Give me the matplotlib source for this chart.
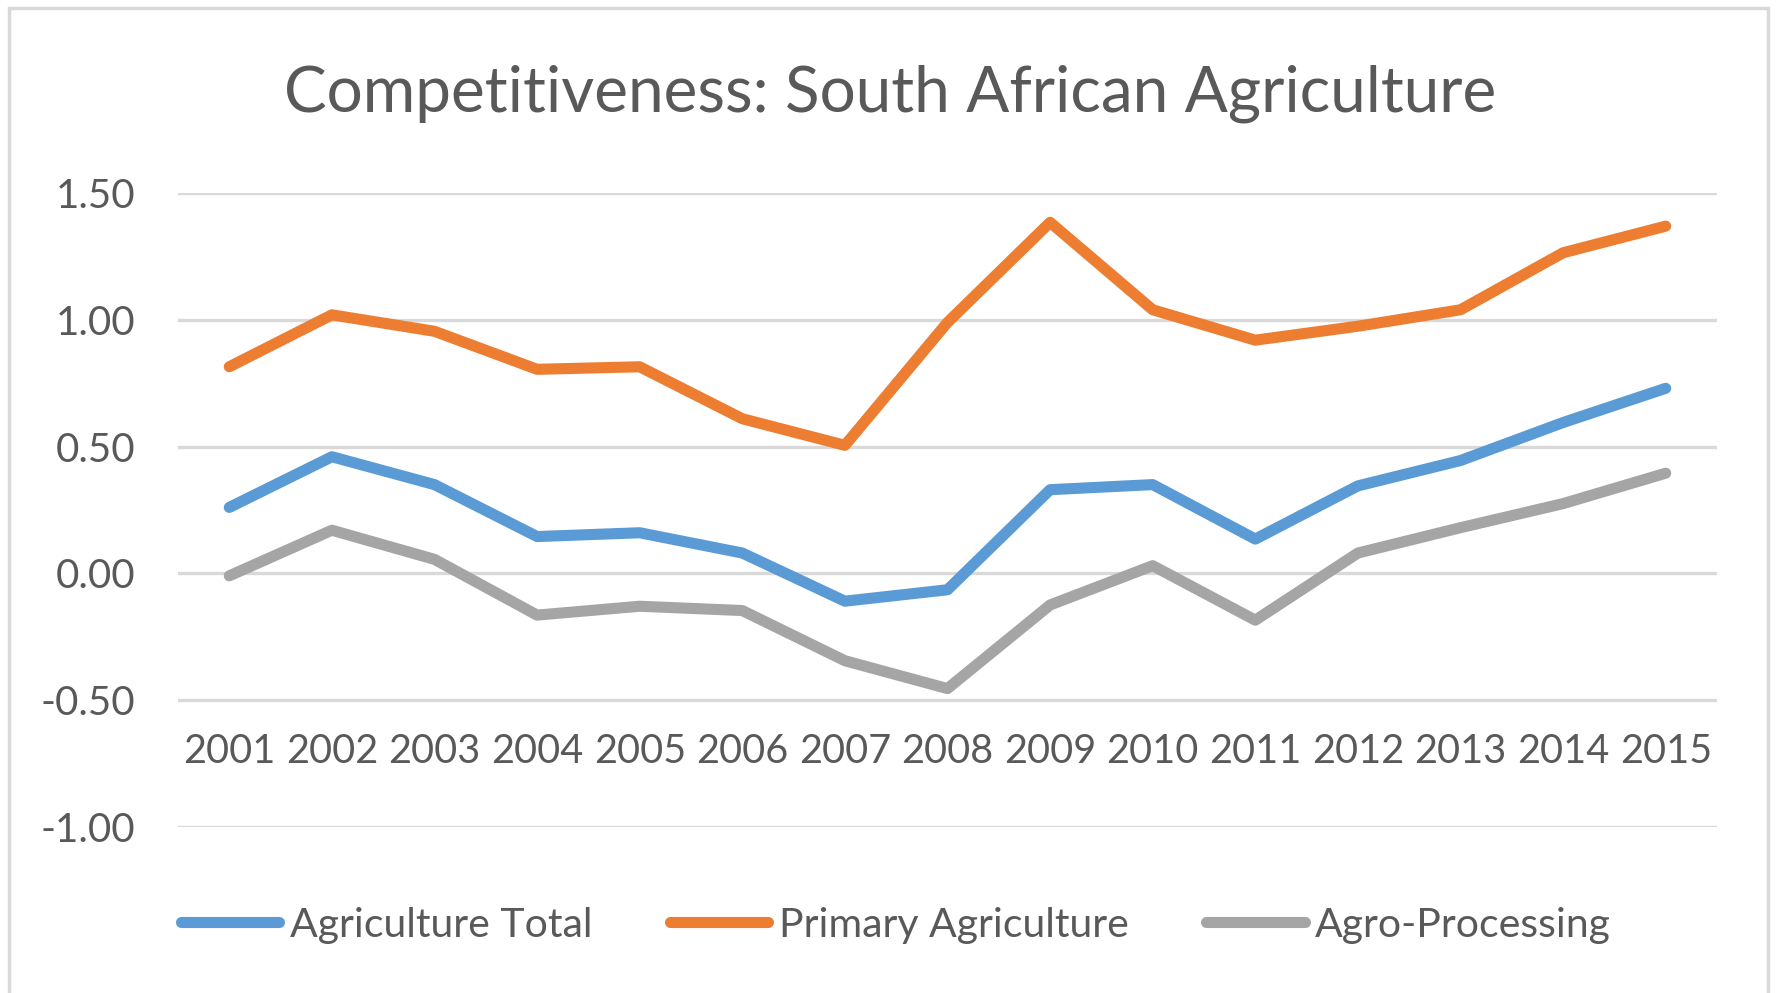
import matplotlib
matplotlib.use("Agg")
import matplotlib.pyplot as plt
from matplotlib.patches import Rectangle

years = [2001, 2002, 2003, 2004, 2005, 2006, 2007, 2008, 2009, 2010, 2011, 2012, 2013, 2014, 2015]
agri_total = [0.26, 0.46, 0.35, 0.145, 0.16, 0.08, -0.11, -0.065, 0.33, 0.35, 0.135, 0.345, 0.445, 0.595, 0.73]
primary_agri = [0.815, 1.02, 0.955, 0.805, 0.815, 0.61, 0.505, 0.99, 1.385, 1.04, 0.92, 0.975, 1.04, 1.265, 1.37]
agro_processing = [-0.01, 0.17, 0.055, -0.165, -0.13, -0.147, -0.345, -0.455, -0.125, 0.03, -0.185, 0.08, 0.18, 0.275, 0.395]
series_names = ["Agriculture Total", "Primary Agriculture", "Agro-Processing"]
y_ticks = [-1.0, -0.5, 0.0, 0.5, 1.0, 1.5]
title = "Competitiveness: South African Agriculture"

colors = ["#5B9BD5", "#ED7D31", "#A5A5A5"]
text_color = "#595959"
grid_color = "#D9D9D9"
font = ["Lato", "DejaVu Sans"]
plt.rcParams['font.family'] = font

fig = plt.figure(figsize=(17.77, 9.93), dpi=100)
fig.patch.set_facecolor("white")

# outer chart border
fig.patches.append(Rectangle((9/1777, -0.05), (1768-9)/1777, 1.05 - 8/993,
                             transform=fig.transFigure, fill=False,
                             edgecolor=grid_color, linewidth=2.5))

ax = fig.add_axes([178/1777, 1-826.7/993, (1717-178)/1777, (826.7-193.2)/993])
ax.set_xlim(2000.5, 2015.5)
ax.set_ylim(-1.0, 1.5)
ax.set_yticks(y_ticks)
ax.set_yticklabels([f"{v:.2f}" for v in y_ticks])
ax.set_xticks(years)
ax.set_xticklabels([str(y) for y in years])
for s in ["top", "right", "left"]:
    ax.spines[s].set_visible(False)
ax.spines["bottom"].set_position(("data", -0.5))
ax.spines["bottom"].set_visible(False)
ax.tick_params(axis="both", length=0, labelcolor=text_color)
ax.tick_params(axis="y", pad=31, labelsize=29)
ax.tick_params(axis="x", pad=24, labelsize=28.5)
ax.grid(axis="y", color=grid_color, linewidth=2.4)
ax.grid(axis="x", visible=False)
ax.set_axisbelow(True)

handles = []
for vals, c, name in zip([agri_total, primary_agri, agro_processing], colors, series_names):
    h, = ax.plot(years, vals, color=c, linewidth=8, solid_joinstyle="round",
                 solid_capstyle="round", label=name)
    handles.append(h)

fig.text(890/1777, 1-94/993, title, ha="center", va="center", fontsize=46, color=text_color)

leg = fig.legend(handles=handles, loc="center", bbox_to_anchor=(896/1777, 1-925/993),
                 ncol=3, frameon=False, fontsize=29.5, labelcolor=text_color,
                 handlelength=2.4, handletextpad=0.25, columnspacing=1.9)

fig.savefig("out.png", dpi=100, facecolor="white")
